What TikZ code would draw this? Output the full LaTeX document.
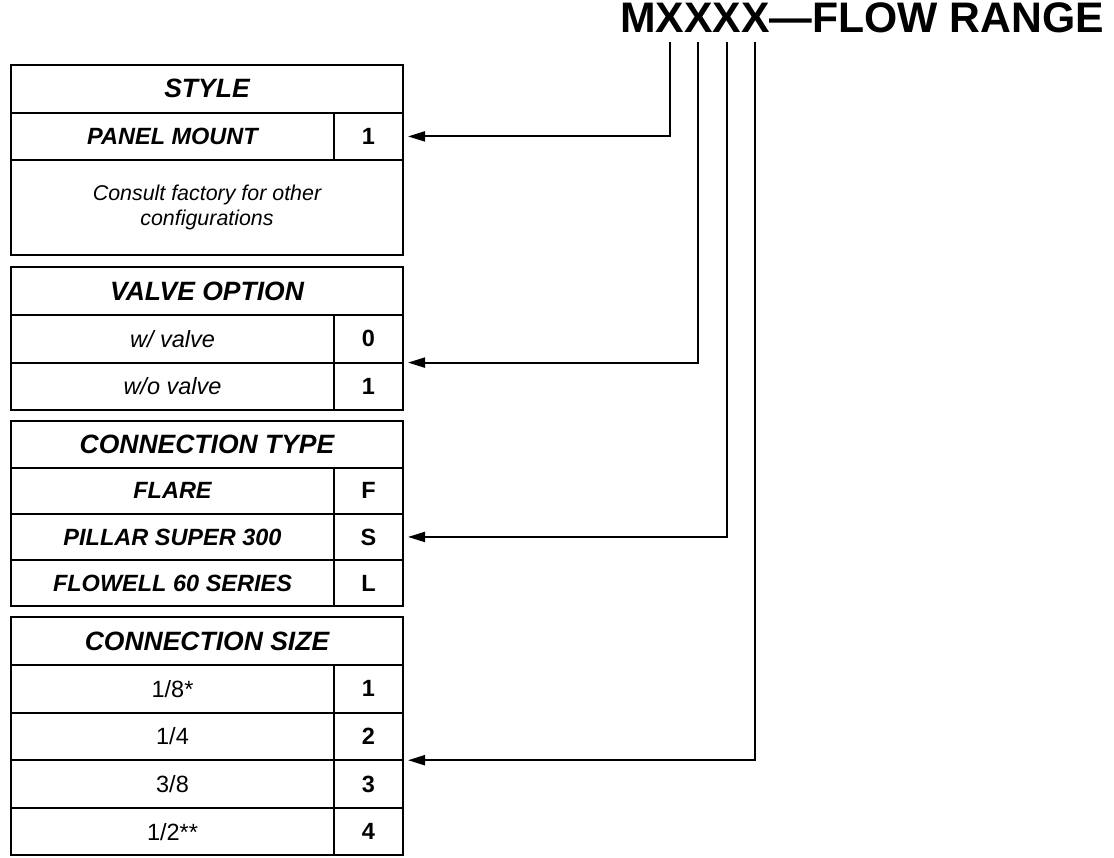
\documentclass[tikz,border=0pt]{standalone}
\usepackage{fontspec}
\setmainfont{Liberation Sans}
\usetikzlibrary{arrows.meta, positioning}
\tikzset{
    cell/.style={draw, line width=2pt, inner sep=0pt, outer sep=0pt, minimum height=47.6pt},
    head/.style={cell, minimum width=392pt, font=\fontsize{26.5}{30}\selectfont\bfseries\itshape},
    item/.style={cell, minimum width=323pt, font=\fontsize{23.5}{27}\selectfont},
    bolditem/.style={item, font=\fontsize{23.5}{27}\selectfont\bfseries\itshape},
    italitem/.style={item, font=\fontsize{23.5}{27}\selectfont\itshape},
    code/.style={cell, minimum width=69pt, font=\fontsize{23.5}{27}\selectfont\bfseries},
    note/.style={cell, minimum width=392pt, minimum height=95.2pt, align=center, font=\fontsize{21.4}{25}\selectfont\itshape},
    digit/.style={inner sep=0pt, outer sep=0pt, font=\fontsize{42.7}{48}\selectfont\bfseries},
    lead/.style={line width=2pt, -{Triangle[length=17pt, width=10pt]}}
}
\begin{document}
\begin{tikzpicture}[x=1pt, y=-1pt]
        \useasboundingbox (0,0) rectangle (1114,857);

        % Part number
        \node[digit, anchor=base west] (M) at (620,32.5) {M};
        \node[digit, right=0pt of M.base east, anchor=base west] (X1) {X};
        \node[digit, right=0pt of X1.base east, anchor=base west] (X2) {X};
        \node[digit, right=0pt of X2.base east, anchor=base west] (X3) {X};
        \node[digit, right=0pt of X3.base east, anchor=base west] (X4) {X};
        \node[digit, right=0pt of X4.base east, anchor=base west] (range) {—FLOW RANGE};

        % Style
        \node[head, anchor=north west] (style) at (11,65) {STYLE};
        \node[bolditem, below=0pt of style.south west, anchor=north west] (panel) {PANEL MOUNT};
        \node[code, right=0pt of panel] (panelc) {1};
        \node[note, below=0pt of panel.south west, anchor=north west] (consult) {Consult factory for other\\configurations};

        % Valve option
        \node[head, below=12pt of consult.south west, anchor=north west] (valve) {VALVE OPTION};
        \node[italitem, below=0pt of valve.south west, anchor=north west] (wv) {w/ valve};
        \node[code, right=0pt of wv] (wvc) {0};
        \node[italitem, below=0pt of wv.south west, anchor=north west] (wov) {w/o valve};
        \node[code, right=0pt of wov] (wovc) {1};

        % Connection type
        \node[head, minimum height=46.3pt, below=11pt of wov.south west, anchor=north west] (ctype) {CONNECTION TYPE};
        \node[bolditem, minimum height=46.3pt, below=0pt of ctype.south west, anchor=north west] (flare) {FLARE};
        \node[code, minimum height=46.3pt, right=0pt of flare] (flarec) {F};
        \node[bolditem, minimum height=46.3pt, below=0pt of flare.south west, anchor=north west] (pillar) {PILLAR SUPER 300};
        \node[code, minimum height=46.3pt, right=0pt of pillar] (pillarc) {S};
        \node[bolditem, minimum height=46.3pt, below=0pt of pillar.south west, anchor=north west] (flowell) {FLOWELL 60 SERIES};
        \node[code, minimum height=46.3pt, right=0pt of flowell] (flowellc) {L};

        % Connection size
        \node[head, below=11pt of flowell.south west, anchor=north west] (csize) {CONNECTION SIZE};
        \node[item, below=0pt of csize.south west, anchor=north west] (s1) {1/8*};
        \node[code, right=0pt of s1] (s1c) {1};
        \node[item, below=0pt of s1.south west, anchor=north west] (s2) {1/4};
        \node[code, right=0pt of s2] (s2c) {2};
        \node[item, below=0pt of s2.south west, anchor=north west] (s3) {3/8};
        \node[code, right=0pt of s3] (s3c) {3};
        \node[item, below=0pt of s3.south west, anchor=north west] (s4) {1/2**};
        \node[code, right=0pt of s4] (s4c) {4};

        % Leaders from the part number to the tables
        \draw[lead] ([yshift=-9pt]X1.south) |- ([xshift=5pt]panelc.east);
        \draw[lead] ([yshift=-9pt]X2.south) |- ([xshift=5pt]wvc.south east);
        \draw[lead] ([yshift=-9pt]X3.south) |- ([xshift=5pt]pillarc.east);
        \draw[lead] ([yshift=-9pt]X4.south) |- ([xshift=5pt]s2c.south east);
\end{tikzpicture}
\end{document}
